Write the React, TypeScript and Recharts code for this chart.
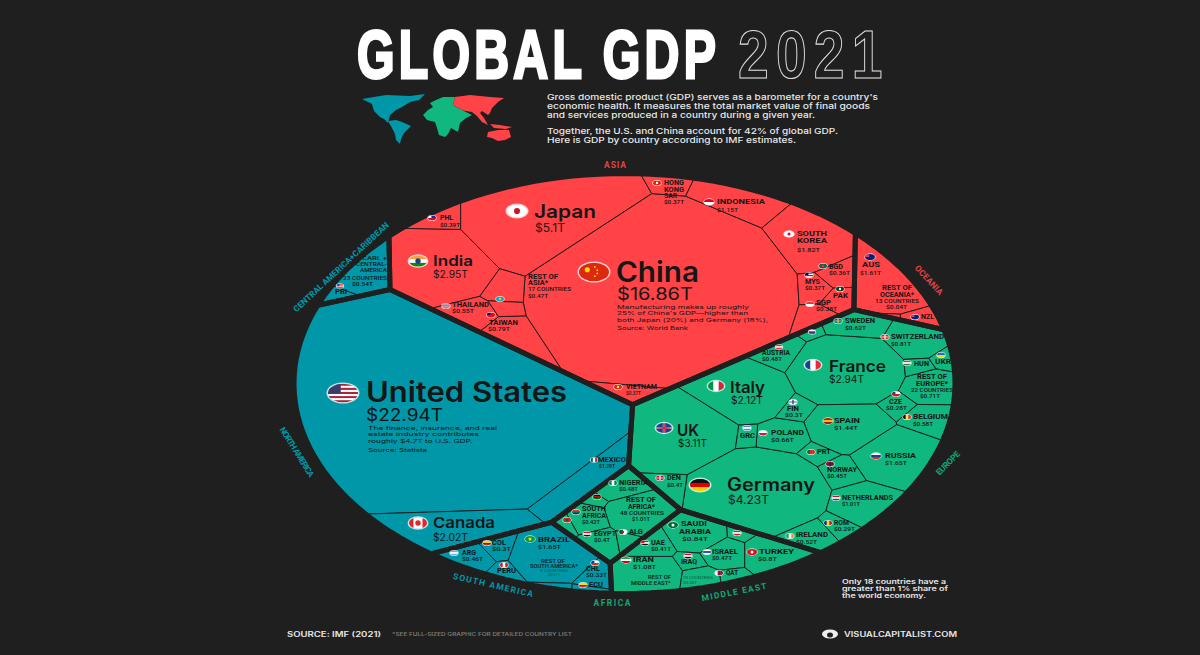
import React from 'react';
import { ScatterChart, Scatter, XAxis, YAxis } from 'recharts';

type Pt = [number, number];

const BG = '#1f1f1f';
const W = 1200;
const H = 655;

// GDP per country in $T, with the point each voronoi cell grows from
const asiaCountries = ['China', 'Japan', 'India', 'South Korea', 'Indonesia', 'Taiwan', 'Thailand', 'Rest of Asia', 'Philippines', 'Hong Kong', 'Malaysia', 'Singapore', 'Bangladesh', 'Pakistan', 'Vietnam', 'Kazakhstan'];
const asiaValues = [16.86, 5.1, 2.95, 1.82, 1.15, 0.79, 0.55, 0.47, 0.39, 0.37, 0.37, 0.38, 0.36, 0.3, 0.37, 0.2];
const asiaSeeds: Pt[] = [[655, 285], [550, 220], [443, 263], [806, 238], [738, 205], [505, 325], [470, 307], [505, 281], [445, 220], [672, 192], [817, 281], [820, 307], [840, 270], [842, 290], [632, 390], [503, 298]];

const oceaniaCountries = ['Australia', 'New Zealand', 'Rest of Oceania'];
const oceaniaValues = [1.61, 0.25, 0.04];
const oceaniaSeeds: Pt[] = [[885, 262], [922, 315], [880, 313]];

const europeCountries = ['Germany', 'UK', 'France', 'Italy', 'Russia', 'Spain', 'Netherlands', 'Switzerland', 'Rest of Europe', 'Poland', 'Sweden', 'Belgium', 'Ireland', 'Austria', 'Norway', 'Denmark', 'Finland', 'Czechia', 'Romania', 'Greece', 'Portugal', 'Hungary', 'Ukraine', 'Slovakia'];
const europeValues = [4.23, 3.11, 2.94, 2.12, 1.65, 1.44, 1.01, 0.81, 0.71, 0.66, 0.62, 0.58, 0.52, 0.48, 0.45, 0.4, 0.3, 0.28, 0.29, 0.2, 0.25, 0.18, 0.18, 0.12];
const europeSeeds: Pt[] = [[760, 490], [680, 430], [845, 368], [742, 390], [895, 455], [847, 425], [862, 502], [912, 340], [928, 385], [783, 435], [852, 325], [927, 418], [808, 535], [782, 350], [840, 470], [675, 485], [793, 407], [896, 403], [835, 525], [748, 434], [818, 452], [915, 365], [940, 358], [812, 332]];

const northAmericaCountries = ['United States', 'Canada', 'Mexico'];
const northAmericaValues = [22.94, 2.02, 1.29];
const northAmericaSeeds: Pt[] = [[460, 400], [470, 530], [590, 470]];

const caribbeanCountries = ['Rest of Central America', 'Puerto Rico'];
const caribbeanValues = [0.54, 0.1];
const caribbeanSeeds: Pt[] = [[368, 265], [340, 295]];

const southAmericaCountries = ['Brazil', 'Argentina', 'Colombia', 'Peru', 'Chile', 'Ecuador', 'Rest of South America'];
const southAmericaValues = [1.65, 0.46, 0.3, 0.22, 0.33, 0.1, 0.1];
const southAmericaSeeds: Pt[] = [[555, 553], [472, 556], [500, 545], [507, 570], [595, 570], [590, 584], [553, 583]];

const africaCountries = ['Nigeria', 'Rest of Africa', 'South Africa', 'Egypt', 'Algeria', 'Morocco', 'Kenya'];
const africaValues = [0.48, 1.01, 0.42, 0.4, 0.15, 0.13, 0.11];
const africaSeeds: Pt[] = [[625, 482], [643, 510], [590, 517], [602, 537], [628, 535], [568, 522], [600, 497]];

const middleEastCountries = ['Iran', 'Saudi Arabia', 'Turkey', 'Israel', 'UAE', 'Iraq', 'Kuwait', 'Qatar', 'Rest of Middle East'];
const middleEastValues = [1.08, 0.84, 0.8, 0.47, 0.41, 0.2, 0.14, 0.17, 0.33];
const middleEastSeeds: Pt[] = [[648, 573], [695, 533], [770, 552], [722, 552], [648, 545], [690, 561], [738, 532], [728, 574], [697, 576]];

const regions = [
  { name: 'Asia', seed: [625, 270] as Pt, color: '#ff4347', countries: asiaCountries, values: asiaValues, seeds: asiaSeeds },
  { name: 'Oceania', seed: [878, 272] as Pt, color: '#ff4347', countries: oceaniaCountries, values: oceaniaValues, seeds: oceaniaSeeds },
  { name: 'Europe', seed: [792, 427] as Pt, color: '#10b77f', countries: europeCountries, values: europeValues, seeds: europeSeeds },
  { name: 'North America', seed: [451, 418] as Pt, color: '#0098a9', countries: northAmericaCountries, values: northAmericaValues, seeds: northAmericaSeeds },
  { name: 'Central America', seed: [372, 272] as Pt, color: '#0098a9', countries: caribbeanCountries, values: caribbeanValues, seeds: caribbeanSeeds },
  { name: 'South America', seed: [540, 555] as Pt, color: '#0098a9', countries: southAmericaCountries, values: southAmericaValues, seeds: southAmericaSeeds },
  { name: 'Africa', seed: [618, 510] as Pt, color: '#10b77f', countries: africaCountries, values: africaValues, seeds: africaSeeds },
  { name: 'Middle East', seed: [697, 552] as Pt, color: '#10b77f', countries: middleEastCountries, values: middleEastValues, seeds: middleEastSeeds },
];

// how much of the ellipse each region gets; Central America is drawn bigger than its GDP in the source
const regionShares = [32.43, 1.9, 23.53, 26.25, 1.0, 3.16, 2.7, 4.44];

// [text, x start, x end, y centre, style]  n/v/s small name, value, note; N/V + size for big ones
const labelRows: [string, number, number, number, string][] = [
  ['China', 616, 699, 272, 'N28'], ['$16.86T', 617, 693, 294, 'V17'],
  ['Manufacturing makes up roughly', 617, 749, 307, 'p'], ['25% of China\'s GDP—higher than', 617, 748, 313.5, 'p'],
  ['both Japan (20%) and Germany (18%),', 617, 768, 320, 'p'], ['Source: World Bank', 617, 688, 328, 'p'],
  ['Japan', 534, 596, 212, 'N18'], ['$5.1T', 535, 565, 228, 'V12'],
  ['India', 433, 473, 261, 'N14'], ['$2.95T', 433, 468, 274, 'V10'],
  ['PHL', 440, 453, 218, 'n'], ['$0.39T', 440, 460, 225, 'v'],
  ['REST OF', 528, 558, 277, 'n'], ['ASIA*', 528, 548, 283, 'n'], ['17 COUNTRIES', 528, 571, 289, 's'], ['$0.47T', 528, 548, 296, 'v'],
  ['THAILAND', 452, 489, 305, 'n'], ['$0.55T', 452, 474, 311, 'v'],
  ['TAIWAN', 489, 518, 323, 'n'], ['$0.79T', 488, 510, 329, 'v'],
  ['VIETNAM', 626, 657, 387, 'n'], ['$0.37T', 626, 641, 393, 'v'],
  ['HONG', 664, 684, 183, 'n'], ['KONG', 664, 684, 189.5, 'n'], ['SAR', 664, 677, 196, 'n'], ['$0.37T', 664, 684, 202, 'v'],
  ['INDONESIA', 717, 765, 202, 'n'], ['$1.15T', 717, 738, 210, 'v'],
  ['SOUTH', 797, 827, 234, 'n'], ['KOREA', 797, 827, 241, 'n'], ['$1.82T', 797, 820, 250, 'v'],
  ['BGD', 829, 843, 267, 'n'], ['$0.36T', 829, 850, 273, 'v'],
  ['MYS', 805, 820, 282, 'n'], ['$0.37T', 805, 825, 288, 'v'],
  ['PAK', 833, 848, 296, 'n'],
  ['SGP', 816, 831, 303, 'n'], ['$0.38T', 816, 837, 309, 'v'],
  ['AUS', 862, 880, 265, 'n'], ['$1.61T', 860, 881, 273, 'v'],
  ['REST OF', 882, 912, 288, 'n'], ['OCEANIA*', 880, 914, 294.5, 'n'], ['13 COUNTRIES', 875, 919, 301, 's'], ['$0.04T', 886, 907, 307, 'v'],
  ['NZL', 921, 934, 317, 'n'],
  ['SWEDEN', 845, 875, 321, 'n'], ['$0.62T', 845, 866, 328, 'v'],
  ['SWITZERLAND', 891, 944, 337, 'n'], ['$0.81T', 891, 911, 344, 'v'],
  ['AUSTRIA', 762, 790, 353, 'n'], ['$0.48T', 762, 782, 359, 'v'],
  ['France', 829, 886, 366, 'N16'], ['$2.94T', 829, 864, 379, 'V10.5'],
  ['HUN', 914, 929, 364, 'n'], ['UKR', 935, 951, 362, 'n'],
  ['REST OF', 917, 947, 377, 'n'], ['EUROPE*', 916, 948, 383.5, 'n'], ['22 COUNTRIES', 911, 953, 390, 's'], ['$0.71T', 920, 940, 396, 'v'],
  ['Italy', 730, 765, 387, 'N16'], ['$2.12T', 731, 763, 400, 'V10.5'],
  ['CZE', 889, 902, 402, 'n'], ['$0.28T', 886, 907, 408, 'v'],
  ['BELGIUM', 913, 948, 417, 'n'], ['$0.58T', 913, 933, 424, 'v'],
  ['UK', 677, 699, 430, 'N16'], ['$3.11T', 678, 707, 443, 'V10.5'],
  ['FIN', 787, 799, 409, 'n'], ['$0.3T', 785, 803, 415, 'v'],
  ['GRC', 740, 755, 436, 'n'],
  ['POLAND', 771, 804, 433, 'n'], ['$0.66T', 771, 794, 440, 'v'],
  ['SPAIN', 834, 860, 421, 'n'], ['$1.44T', 834, 858, 428, 'v'],
  ['RUSSIA', 885, 916, 456, 'n'], ['$1.65T', 885, 907, 463, 'v'],
  ['PRT', 817, 831, 452, 'n'],
  ['NORWAY', 827, 857, 470, 'n'], ['$0.45T', 827, 847, 476, 'v'],
  ['Germany', 727, 815, 485, 'N18'], ['$4.23T', 728, 769, 500, 'V12'],
  ['DEN', 667, 681, 478, 'n'], ['$0.4T', 667, 683, 485, 'v'],
  ['NETHERLANDS', 842, 893, 498, 'n'], ['$1.01T', 842, 860, 504, 'v'],
  ['ROM', 834, 849, 523, 'n'], ['$0.29T', 834, 855, 529, 'v'],
  ['IRELAND', 796, 828, 535, 'n'], ['$0.52T', 796, 817, 542, 'v'],
  ['SAUDI', 681, 707, 524, 'n'], ['ARABIA', 679, 711, 532, 'n'], ['$0.84T', 682, 708, 539, 'v'],
  ['TURKEY', 759, 794, 552, 'n'], ['$0.8T', 758, 777, 559, 'v'],
  ['ISRAEL', 712, 738, 552, 'n'], ['$0.47T', 712, 732, 558, 'v'],
  ['UAE', 651, 665, 543, 'n'], ['$0.41T', 651, 671, 549, 'v'],
  ['IRAQ', 681, 697, 562, 'n'],
  ['IRAN', 633, 654, 560, 'n'], ['$1.08T', 633, 656, 567, 'v'],
  ['QAT', 726, 738, 573, 'n'],
  ['REST OF', 648, 671, 577, 's'], ['MIDDLE EAST*', 631, 671, 583, 's'],
  ['10 COUNTRIES', 683, 713, 578, 'f'], ['$0.35T', 683, 697, 583, 'f'],
  ['NIGERIA', 619, 648, 483, 'n'], ['$0.48T', 619, 638, 489, 'v'],
  ['REST OF', 626, 656, 500, 'n'], ['AFRICA*', 628, 655, 506.5, 'n'], ['48 COUNTRIES', 620, 664, 513, 's'], ['$1.01T', 632, 650, 519, 'v'],
  ['SOUTH', 582, 606, 509, 'n'], ['AFRICA', 582, 606, 515.5, 'n'], ['$0.42T', 582, 600, 521.5, 'v'],
  ['EGYPT', 594, 616, 534, 'n'], ['$0.4T', 594, 610, 540, 'v'],
  ['ALG', 629, 643, 532, 'n'],
  ['BRAZIL', 538, 570, 540, 'n'], ['$1.65T', 538, 561, 547, 'v'],
  ['ARG', 462, 476, 553, 'n'], ['$0.46T', 462, 483, 559, 'v'],
  ['COL', 492, 506, 543, 'n'], ['$0.3T', 492, 511, 549, 'v'],
  ['PERU', 497, 516, 571, 'n'],
  ['REST OF', 541, 565, 561, 's'], ['SOUTH AMERICA*', 530, 578, 566, 's'], ['8 COUNTRIES', 540, 568, 571, 'f'], ['$0.51T', 548, 560, 575, 'f'],
  ['CHL', 586, 600, 569, 'n'], ['$0.33T', 586, 607, 575, 'v'],
  ['ECU', 589, 603, 585, 'n'],
  ['United States', 366, 567, 392, 'N28'], ['$22.94T', 366, 443, 415, 'V17'],
  ['The finance, insurance, and real', 368, 497, 428, 'p'], ['estate industry contributes', 368, 479, 434.5, 'p'],
  ['roughly $4.7T to U.S. GDP.', 368, 473, 441, 'p'], ['Source: Statista', 368, 427, 450, 'p'],
  ['Canada', 433, 495, 523, 'N15'], ['$2.02T', 433, 468, 537, 'V10.5'],
  ['MEXICO', 598, 626, 460, 'n'], ['$1.29T', 599, 615, 466, 'v'],
  ['CARI. +', 362, 387, 258, 's'], ['CENTRAL-', 356, 387, 264, 's'], ['AMERICA', 360, 387, 270, 's'], ['23 COUNTRIES', 343, 387, 278, 's'], ['$0.54T', 352, 373, 284, 'v'],
  ['PRI', 335, 347, 292, 'n'],
];

// [flag, x, y, half width]
const flagRows: [string, number, number, number][] = [
  ['china', 594, 272, 15], ['japan', 517, 211, 10], ['india', 418, 261, 9], ['us', 343, 393, 15], ['uk', 664, 428, 8], ['germany', 700, 485, 10],
  ['france', 813, 365, 8], ['italy', 716, 386, 8], ['canada', 418, 523, 9], ['phl', 432, 218, 4], ['kaz', 500, 299, 4], ['thai', 446, 306, 4],
  ['taiwan', 491, 315, 4], ['vietnam', 618, 387, 4], ['hk', 657, 183, 4], ['indonesia', 709, 202, 5], ['korea', 789, 234, 5], ['bgd', 823, 266, 4],
  ['mys', 809, 275, 4], ['pak', 840, 289, 4], ['sgp', 810, 304, 4], ['aus', 870, 257, 5], ['nzl', 915, 317, 4], ['sweden', 838, 321, 4],
  ['slovakia', 812, 332, 3.5], ['swiss', 885, 337, 4], ['austria', 779, 347, 3.5], ['hun', 907, 363, 4], ['ukr', 941, 355, 4], ['cze', 896, 394, 4],
  ['belgium', 907, 417, 4], ['fin', 793, 402, 4], ['grc', 747, 428, 4], ['poland', 763, 433, 4], ['spain', 828, 421, 5], ['russia', 876, 456, 5],
  ['prt', 811, 452, 4], ['norway', 830, 464, 4], ['den', 660, 478, 4], ['nld', 836, 498, 4], ['rom', 828, 523, 4], ['ireland', 790, 536, 4],
  ['saudi', 673, 525, 5], ['kuwait', 737, 533, 4], ['turkey', 752, 552, 5], ['israel', 707, 552, 4], ['uae', 645, 543, 4], ['iraq', 688, 556, 4],
  ['iran', 626, 560, 5], ['qatar', 719, 573, 4], ['nigeria', 613, 483, 4], ['kenya', 597, 497, 4], ['sa', 576, 512, 4], ['morocco', 567, 520, 4],
  ['egypt', 587, 534, 4], ['alg', 623, 532, 4], ['brazil', 530, 539, 5], ['arg', 454, 553, 4], ['col', 487, 543, 4], ['peru', 504, 565, 4],
  ['chile', 595, 563, 4], ['ecu', 583, 585, 4], ['mexico', 594, 460, 3.5], ['pri', 340, 286, 3.5],
];

type FlagSpec = { dir?: 'h' | 'v'; colors: string[]; dot?: string; cross?: string; canton?: string };
const flagSpecs: Record<string, FlagSpec> = {
  china: { colors: ['#de2910'], dot: '#ffde00' }, japan: { colors: ['#ffffff'], dot: '#d3122a' },
  india: { colors: ['#f7a13c', '#ffffff', '#138808'], dot: '#1c3f94' }, uk: { colors: ['#1c3f94'], cross: '#e4e4e4', dot: '#cf142b' },
  us: { colors: ['#b22234', '#fff', '#b22234', '#fff', '#b22234', '#fff', '#b22234', '#fff', '#b22234'], canton: '#3c3b6e' },
  germany: { colors: ['#111', '#dd0000', '#ffce00'] }, france: { dir: 'v', colors: ['#1c3f94', '#fff', '#ed2939'] },
  italy: { dir: 'v', colors: ['#009246', '#fff', '#ce2b37'] }, canada: { dir: 'v', colors: ['#e3242b', '#fff', '#fff', '#e3242b'], dot: '#e3242b' },
  phl: { colors: ['#0038a8', '#ce1126'], canton: '#fff' }, kaz: { colors: ['#00afca'], dot: '#fec50c' },
  thai: { colors: ['#a51931', '#f4f5f8', '#2d2a4a', '#f4f5f8', '#a51931'] }, taiwan: { colors: ['#fe0000'], canton: '#000095' },
  vietnam: { colors: ['#da251d'], dot: '#ffff00' }, hk: { colors: ['#de2408'], dot: '#fff' }, indonesia: { colors: ['#e70011', '#fff'] },
  korea: { colors: ['#fff'], dot: '#c60c30' }, bgd: { colors: ['#006a4e'], dot: '#f42a41' }, mys: { colors: ['#cc0001', '#fff', '#cc0001', '#fff'], canton: '#010066' },
  pak: { colors: ['#01411c'], dot: '#fff' }, sgp: { colors: ['#ef3340', '#fff'] }, aus: { colors: ['#00247d'], canton: '#cf4060' }, nzl: { colors: ['#00247d'], canton: '#cf4060' },
  sweden: { colors: ['#006aa7'], cross: '#fecc00' }, slovakia: { colors: ['#fff', '#0b4ea2', '#ee1c25'] }, swiss: { colors: ['#d52b1e'], cross: '#fff' },
  austria: { colors: ['#ed2939', '#fff', '#ed2939'] }, hun: { colors: ['#ce2939', '#fff', '#477050'] }, ukr: { colors: ['#2a6cc4', '#ffd500'] },
  cze: { colors: ['#fff', '#d7141a'], canton: '#11457e' }, belgium: { dir: 'v', colors: ['#111', '#fae042', '#ed2939'] }, fin: { colors: ['#fff'], cross: '#003580' },
  grc: { colors: ['#4b8fd0', '#fff', '#4b8fd0'] }, poland: { colors: ['#fff', '#dc143c'] }, spain: { colors: ['#aa151b', '#f1bf00', '#aa151b'] },
  russia: { colors: ['#fff', '#1c3f94', '#d52b1e'] }, prt: { dir: 'v', colors: ['#046a38', '#da291c', '#da291c'] }, norway: { colors: ['#ba0c2f'], cross: '#00205b' },
  den: { colors: ['#c60c30'], cross: '#fff' }, nld: { colors: ['#ae1c28', '#fff', '#21468b'] }, rom: { dir: 'v', colors: ['#002b7f', '#fcd116', '#ce1126'] },
  ireland: { dir: 'v', colors: ['#169b62', '#fff', '#ff883e'] }, saudi: { colors: ['#006c35'], dot: '#ffffff' }, kuwait: { colors: ['#007a3d', '#fff', '#ce1126'] },
  turkey: { colors: ['#e30a17'], dot: '#fff' }, israel: { colors: ['#fff', '#0038b8', '#fff'] }, uae: { colors: ['#00732f', '#fff', '#111'], canton: '#ff0000' },
  iraq: { colors: ['#ce1126', '#fff', '#111'] }, iran: { colors: ['#239f40', '#fff', '#da0000'] }, qatar: { dir: 'v', colors: ['#fff', '#8a1538', '#8a1538'] },
  nigeria: { dir: 'v', colors: ['#008751', '#fff', '#008751'] }, kenya: { colors: ['#111', '#bb0000', '#006600'] }, sa: { colors: ['#de3831', '#007a4d', '#002395'] },
  morocco: { colors: ['#c1272d'], dot: '#006233' }, egypt: { colors: ['#ce1126', '#fff', '#111'] }, alg: { dir: 'v', colors: ['#006233', '#fff'], dot: '#d21034' },
  brazil: { colors: ['#009c3b'], dot: '#ffdf00' }, arg: { colors: ['#74acdf', '#fff', '#74acdf'] }, col: { colors: ['#fcd116', '#fcd116', '#003893', '#ce1126'] },
  peru: { dir: 'v', colors: ['#d91023', '#fff', '#d91023'] }, chile: { colors: ['#fff', '#d52b1e'], canton: '#0039a6' }, ecu: { colors: ['#ffdd00', '#ffdd00', '#034ea2', '#ed1c24'] },
  mexico: { dir: 'v', colors: ['#006847', '#fff', '#ce1126'] }, pri: { colors: ['#ed0000', '#fff', '#ed0000', '#fff', '#ed0000'], canton: '#0050f0' },
};

// the source is a circle stretched sideways, so the cells are worked out in circle space
const CX = 624.5;
const CY = 383.5;
const RX = 330.5;
const RY = 210;
const SQ = RY / RX;
const toC = ([x, y]: Pt): Pt => [(x - CX) * SQ, y - CY];
const fromC = ([x, y]: Pt): Pt => [x / SQ + CX, y + CY];

const polyArea = (p: Pt[]) => {
  let a = 0;
  for (let i = 0; i < p.length; i++) {
    const q = p[(i + 1) % p.length];
    a += p[i][0] * q[1] - q[0] * p[i][1];
  }
  return Math.abs(a) / 2;
};

const clip = (p: Pt[], a: number, b: number, c: number): Pt[] => {
  const out: Pt[] = [];
  for (let i = 0; i < p.length; i++) {
    const s = p[i];
    const e = p[(i + 1) % p.length];
    const ds = a * s[0] + b * s[1] - c;
    const de = a * e[0] + b * e[1] - c;
    if (ds <= 0) out.push(s);
    if ((ds < 0 && de > 0) || (ds > 0 && de < 0)) {
      const t = ds / (ds - de);
      out.push([s[0] + t * (e[0] - s[0]), s[1] + t * (e[1] - s[1])]);
    }
  }
  return out;
};

// power diagram whose cell areas follow the values, by adjusting the weights
const solveCells = (box: Pt[], sites: Pt[], values: number[], rounds = 800): Pt[][] => {
  const total = values.reduce((s, v) => s + v, 0);
  const boxArea = polyArea(box);
  const targets = values.map((v) => (v / total) * boxArea);
  const w = targets.map((t) => t / Math.PI);
  let cells: Pt[][] = [];
  for (let r = 0; r < rounds; r++) {
    const next = w.slice();
    cells = sites.map((si, i) => {
      let poly = box;
      const planes: number[][] = [];
      sites.forEach((sj, j) => {
        if (i === j || !poly.length) return;
        const a = 2 * (sj[0] - si[0]);
        const b = 2 * (sj[1] - si[1]);
        const c = sj[0] ** 2 + sj[1] ** 2 - si[0] ** 2 - si[1] ** 2 - w[j] + w[i];
        planes.push([a, b, c]);
        poly = clip(poly, a, b, c);
      });
      let d = 0;
      planes.forEach(([a, b, c]) => {
        const n = Math.hypot(a, b);
        for (let k = 0; k < poly.length; k++) {
          const p = poly[k];
          const q = poly[(k + 1) % poly.length];
          if (Math.abs(a * p[0] + b * p[1] - c) / n < 1e-6 && Math.abs(a * q[0] + b * q[1] - c) / n < 1e-6) {
            d += Math.hypot(p[0] - q[0], p[1] - q[1]) / n;
          }
        }
      });
      next[i] = w[i] + (0.5 * (targets[i] - polyArea(poly))) / Math.max(d, 0.5);
      return poly;
    });
    next.forEach((v, i) => (w[i] = v));
  }
  return cells;
};

const ellipse: Pt[] = Array.from({ length: 160 }, (_, i) => [RY * Math.cos((i * Math.PI) / 80), RY * Math.sin((i * Math.PI) / 80)] as Pt);
const regionCells = solveCells(ellipse, regions.map((r) => toC(r.seed)), regionShares);

const regionData = regions.map((r, i) => ({ x: r.seed[0], y: r.seed[1], name: r.name, poly: regionCells[i].map(fromC) }));
const countryData = regions.map((r, i) => {
  const cells = solveCells(regionCells[i], r.seeds.map(toC), r.values);
  return r.countries.map((name, k) => ({ x: r.seeds[k][0], y: r.seeds[k][1], name, value: r.values[k], poly: cells[k].map(fromC) }));
});
const labelData = labelRows.map(([text, x0, x1, y, style]) => ({ x: x0, y, text, span: x1 - x0, style }));
const flagData = flagRows.map(([flag, x, y, r]) => ({ x, y, flag, r }));

const CellShape = (fill: string, stroke: string, strokeWidth: number) => (props: any) => {
  const { cx, cy, payload } = props;
  const kx = cx / payload.x;
  const ky = cy / payload.y;
  const points = payload.poly.map(([x, y]: Pt) => `${x * kx},${y * ky}`).join(' ');
  return <polygon points={points} fill={fill} stroke={stroke} strokeWidth={strokeWidth} strokeLinejoin="miter" />;
};

const LabelShape = (props: any) => {
  const { cx, cy, payload } = props;
  const kind = payload.style[0];
  const big = parseFloat(payload.style.slice(1));
  let size = 6.6;
  let weight = 700;
  let font = 'Roboto, sans-serif';
  let fill = '#161616';
  if (kind === 'v') { size = 5.6; weight = 500; }
  if (kind === 's') { size = 5.2; weight = 500; }
  if (kind === 'f') { size = 4; weight = 400; fill = '#0d5a42'; }
  if (kind === 'p') { size = 5.4; weight = 400; font = 'Inter, sans-serif'; }
  if (kind === 'N') { size = big; weight = 600; font = 'Inter, sans-serif'; }
  if (kind === 'V') { size = big; weight = 400; font = 'Inter, sans-serif'; }
  return (
    <text x={cx} y={cy + size * 0.36} fontFamily={font} fontSize={size} fontWeight={weight} fill={fill} textLength={payload.span} lengthAdjust="spacingAndGlyphs">
      {payload.text}
    </text>
  );
};

const FlagShape = (props: any) => {
  const { cx, cy, payload } = props;
  const { flag, r } = payload;
  const spec = flagSpecs[flag] || { colors: ['#888'] };
  const ry = r * 0.62;
  const id = `flag-${flag}`;
  const n = spec.colors.length;
  const line = Math.max(0.7, ry * 0.3);
  return (
    <g>
      <ellipse cx={cx} cy={cy} rx={r + (r > 6 ? 1.5 : 0.7)} ry={ry + (r > 6 ? 1.2 : 0.6)} fill="#ffffff" fillOpacity={0.75} />
      <clipPath id={id}>
        <ellipse cx={cx} cy={cy} rx={r} ry={ry} />
      </clipPath>
      <g clipPath={`url(#${id})`}>
        {spec.colors.map((c, i) =>
          spec.dir === 'v' ? (
            <rect key={i} x={cx - r + (i * 2 * r) / n} y={cy - ry} width={(2 * r) / n + 0.3} height={2 * ry} fill={c} />
          ) : (
            <rect key={i} x={cx - r} y={cy - ry + (i * 2 * ry) / n} width={2 * r} height={(2 * ry) / n + 0.3} fill={c} />
          ),
        )}
        {spec.canton && <rect x={cx - r} y={cy - ry} width={r * 0.85} height={ry * (flag === 'us' ? 1.05 : 1)} fill={spec.canton} />}
        {spec.cross && <rect x={cx - r} y={cy - line / 2} width={2 * r} height={line} fill={spec.cross} />}
        {spec.cross && <rect x={cx - line * 0.8} y={cy - ry} width={line * 1.6} height={2 * ry} fill={spec.cross} />}
        {spec.dot && (flag === 'china' ? (
          <g fill={spec.dot}>
            <circle cx={cx - r * 0.45} cy={cy - ry * 0.25} r={r * 0.17} />
            <circle cx={cx + r * 0.05} cy={cy - ry * 0.55} r={r * 0.06} />
            <circle cx={cx + r * 0.22} cy={cy - ry * 0.2} r={r * 0.06} />
            <circle cx={cx + r * 0.22} cy={cy + ry * 0.15} r={r * 0.06} />
            <circle cx={cx + r * 0.05} cy={cy + ry * 0.45} r={r * 0.06} />
          </g>
        ) : (
          <ellipse cx={cx} cy={cy} rx={flag === 'uk' ? r : r * 0.3} ry={flag === 'uk' ? line * 0.5 : ry * 0.5} fill={spec.dot} />
        ))}
        {flag === 'uk' && <rect x={cx - line * 0.5} y={cy - ry} width={line} height={2 * ry} fill={spec.dot} />}
      </g>
    </g>
  );
};

// text around and outside the ellipse: [text, centre x, centre y, angle, width, colour]
const regionCaptions: [string, number, number, number, number, string][] = [
  ['ASIA', 615, 165, 0, 22, '#e63f44'],
  ['OCEANIA', 929, 280, 47, 37, '#e63f44'],
  ['EUROPE', 948, 463, -45, 30, '#10a877'],
  ['MIDDLE EAST', 734, 592, -11, 66, '#10a877'],
  ['AFRICA', 612, 603, 0, 37, '#10a877'],
  ['SOUTH AMERICA', 493, 585, 13, 82, '#0098a9'],
  ['NORTH AMERICA', 297, 452, 58, 57, '#0098a9'],
  ['CENTRAL AMERICA+CARIBBEAN', 341, 267, -43, 127, '#0098a9'],
];

// [text, x start, x end, y centre, size, colour]
const pageTexts: [string, number, number, number, number, string][] = [
  ['Gross domestic product (GDP) serves as a barometer for a country\'s', 547, 878, 97, 8, '#e8e8e8'],
  ['economic health. It measures the total market value of final goods', 547, 870, 106, 8, '#e8e8e8'],
  ['and services produced in a country during a given year.', 547, 815, 115, 8, '#e8e8e8'],
  ['Together, the U.S. and China account for 42% of global GDP.', 547, 838, 131, 8, '#e8e8e8'],
  ['Here is GDP by country according to IMF estimates.', 547, 796, 140, 8, '#e8e8e8'],
  ['Only 18 countries have a', 842, 946, 582, 6.2, '#e8e8e8'],
  ['greater than 1% share of', 842, 948, 589, 6.2, '#e8e8e8'],
  ['the world economy.', 842, 926, 596, 6.2, '#e8e8e8'],
  ['SOURCE: IMF (2021)', 287, 381, 634, 7, '#e8e8e8'],
  ['*SEE FULL-SIZED GRAPHIC FOR DETAILED COUNTRY LIST', 392, 572, 634, 5, '#777777'],
  ['VISUALCAPITALIST.COM', 844, 957, 634, 7, '#e8e8e8'],
];

const mapShapes: [string, string][] = [
  ['#0098a9', '362,99 374,97 386,95 410,96 425,94 419,100 410,102 402,107 396,110 390,115 388,123 384,119 380,117 374,111 372,104 366,101'],
  ['#0098a9', '388,121 396,120 402,122 411,126 407,130 404,133 401,139 400,144 396,140 395,134 392,128'],
  ['#10b77f', '423,115 428,110 433,107 430,103 436,100 443,97 455,97 453,105 458,108 462,110 472,115 466,118 460,123 458,132 451,128 448,134 445,137 439,135 437,128 435,122 427,120'],
  ['#ff4347', '455,97 470,95 490,97 504,98 498,102 492,108 490,113 488,115 482,111 480,113 484,118 488,125 482,122 477,116 472,112 466,111 462,110 453,105'],
  ['#ff4347', '488,132 498,130 509,130 511,137 505,140 498,141 492,138 487,137'],
  ['#ff4347', '490,124 500,125 512,127 506,129 494,128'],
];

const Overlay = () => (
  <svg width={W} height={H} style={{ position: 'absolute', left: 0, top: 0, pointerEvents: 'none' }}>
    <text transform="translate(357 78) scale(0.7 1)" fontFamily="'Liberation Sans', sans-serif" fontWeight={700} fontSize={69} letterSpacing={6} fill="#fff" stroke="#fff" strokeWidth={3}>
      GLOBAL GDP
    </text>
    <text transform="translate(738 78) scale(0.8 1)" fontFamily="'Liberation Sans', sans-serif" fontWeight={700} fontSize={69} letterSpacing={9} fill={BG} stroke="#e0e0e0" strokeWidth={1.1}>
      2021
    </text>
    {mapShapes.map(([c, pts], i) => (
      <polygon key={i} points={pts} fill={c} />
    ))}
    {pageTexts.map(([t, x0, x1, y, size, c], i) => (
      <text key={i} x={x0} y={y + size * 0.36} fontFamily="Inter, sans-serif" fontWeight={i >= 5 ? 600 : 500} fontSize={size} fill={c} textLength={x1 - x0} lengthAdjust="spacingAndGlyphs">
        {t}
      </text>
    ))}
    {regionCaptions.map(([t, x, y, a, w, c]) => (
      <text key={t} x={0} y={0} transform={`translate(${x} ${y}) rotate(${a}) translate(${-w / 2} 3)`} fontFamily="Roboto, sans-serif" fontWeight={700} fontSize={8.5} fill={c} textLength={w} lengthAdjust="spacing">
        {t}
      </text>
    ))}
    <ellipse cx={830} cy={634} rx={8} ry={4.5} fill="#eee" />
    <ellipse cx={830} cy={635} rx={3} ry={2.5} fill={BG} />
  </svg>
);

const App = () => (
  <div style={{ position: 'relative', width: W, height: H, background: BG, overflow: 'hidden' }}>
    <style>{`body{margin:0;background:${BG};overflow:hidden}`}</style>
    <ScatterChart width={W} height={H} margin={{ top: 0, right: 0, bottom: 0, left: 0 }}>
      <XAxis type="number" dataKey="x" domain={[0, W]} hide />
      <YAxis type="number" dataKey="y" domain={[0, H]} reversed hide />
      {regions.map((r, i) => (
        <Scatter key={r.name} name={r.name} data={countryData[i]} shape={CellShape(r.color, '#1b1b1b', 0.9)} isAnimationActive={false} />
      ))}
      <Scatter name="regions" data={regionData} shape={CellShape('none', BG, 5)} isAnimationActive={false} />
      <Scatter name="flags" data={flagData} shape={FlagShape} isAnimationActive={false} />
      <Scatter name="labels" data={labelData} shape={LabelShape} isAnimationActive={false} />
    </ScatterChart>
    <Overlay />
  </div>
);

export default App;
